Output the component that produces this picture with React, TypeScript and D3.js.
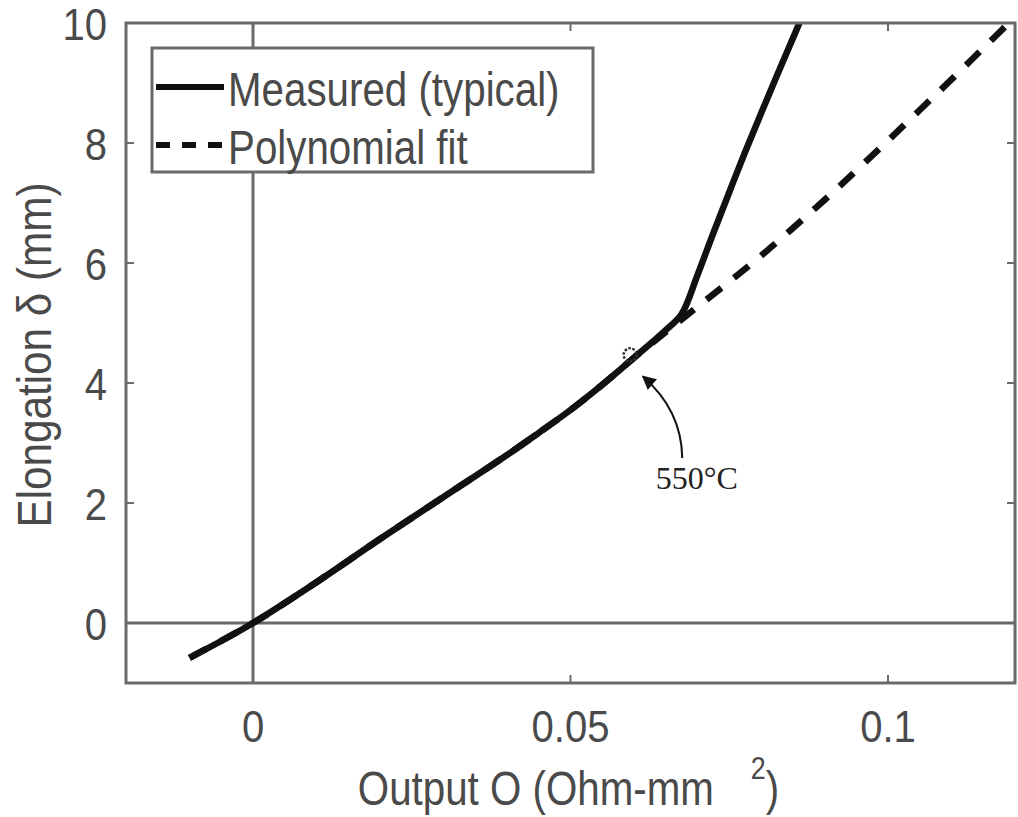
import { useEffect, useRef } from 'react'
import * as d3 from 'd3'

// Measured (typical) curve: output O vs elongation
const measuredO = [-0.01, -0.005, 0, 0.01, 0.02, 0.03, 0.04, 0.045, 0.05, 0.055, 0.06, 0.065, 0.0675, 0.07, 0.0725, 0.075, 0.0775, 0.08, 0.0825, 0.085, 0.0875]
const measuredDelta = [-0.58, -0.3, 0, 0.68, 1.4, 2.1, 2.8, 3.17, 3.55, 3.97, 4.42, 4.88, 5.15, 5.8, 6.5, 7.18, 7.85, 8.49, 9.12, 9.74, 10.36]

// Polynomial fit
const fitO = [-0.01, 0, 0.01, 0.02, 0.03, 0.04, 0.045, 0.05, 0.055, 0.06, 0.065, 0.07, 0.075, 0.08, 0.085, 0.09, 0.095, 0.1, 0.105, 0.11, 0.115, 0.12]
const fitDelta = [-0.58, 0, 0.68, 1.4, 2.1, 2.8, 3.17, 3.55, 3.97, 4.42, 4.85, 5.27, 5.69, 6.12, 6.58, 7.05, 7.54, 8.04, 8.55, 9.06, 9.58, 10.1]

const xTicks = [0, 0.05, 0.1]
const xTickLabels = ['0', '0.05', '0.1']
const yTicks = [0, 2, 4, 6, 8, 10]
const yTickLabels = ['0', '2', '4', '6', '8', '10']

const seriesNames = ['Measured (typical)', 'Polynomial fit']

// 550°C annotation (data units)
const markO = 0.0594
const markDelta = 4.47
const annoText = '550°C'
const arrowTail = [0.0676, 2.75]
const arrowCtrl = [0.0675, 3.55]
const arrowTip = [0.0614, 4.11]
const annoTextAt = [0.0699, 2.24]

export default function App() {
  const svgRef = useRef<SVGSVGElement>(null)

  useEffect(() => {
    if (!svgRef.current) return
    const width = 1018
    const height = 817
    const margin = { top: 23, right: 3, bottom: 134, left: 126 }
    const innerW = width - margin.left - margin.right
    const innerH = height - margin.top - margin.bottom

    const svg = d3.select(svgRef.current)
    svg.selectAll('*').remove()
    svg.attr('width', width).attr('height', height)

    const axisColor = '#6a6a6a'
    const textColor = '#4a4a4a'
    const font = '"Liberation Sans", Arial, sans-serif'
    const squeeze = 0.84

    const x = d3.scaleLinear().domain([-0.02, 0.12]).range([0, innerW])
    const y = d3.scaleLinear().domain([-1, 10]).range([innerH, 0])

    const defs = svg.append('defs')
    defs.append('clipPath').attr('id', 'plot-clip')
      .append('rect').attr('width', innerW).attr('height', innerH)
    defs.append('marker')
      .attr('id', 'arrow-head')
      .attr('viewBox', '0 0 10 10')
      .attr('refX', 9).attr('refY', 5)
      .attr('markerWidth', 7).attr('markerHeight', 7)
      .attr('markerUnits', 'strokeWidth')
      .attr('orient', 'auto')
      .append('path').attr('d', 'M0,0 L10,5 L0,10 z').attr('fill', '#111')

    const g = svg.append('g').attr('transform', `translate(${margin.left},${margin.top})`)

    // Zero lines
    g.append('line')
      .attr('x1', x(0)).attr('x2', x(0)).attr('y1', 0).attr('y2', innerH)
      .attr('stroke', axisColor).attr('stroke-width', 3)
    g.append('line')
      .attr('x1', 0).attr('x2', innerW).attr('y1', y(0)).attr('y2', y(0))
      .attr('stroke', axisColor).attr('stroke-width', 3)

    // Inward ticks on all four sides
    const tickLen = 8
    xTicks.forEach(t => {
      g.append('line').attr('x1', x(t)).attr('x2', x(t)).attr('y1', innerH).attr('y2', innerH - tickLen)
        .attr('stroke', axisColor).attr('stroke-width', 2)
      g.append('line').attr('x1', x(t)).attr('x2', x(t)).attr('y1', 0).attr('y2', tickLen)
        .attr('stroke', axisColor).attr('stroke-width', 2)
    })
    yTicks.forEach(t => {
      g.append('line').attr('x1', 0).attr('x2', tickLen).attr('y1', y(t)).attr('y2', y(t))
        .attr('stroke', axisColor).attr('stroke-width', 2)
      g.append('line').attr('x1', innerW).attr('x2', innerW - tickLen).attr('y1', y(t)).attr('y2', y(t))
        .attr('stroke', axisColor).attr('stroke-width', 2)
    })

    // Lines
    const plot = g.append('g').attr('clip-path', 'url(#plot-clip)')
    const line = d3.line<[number, number]>()
      .x(d => x(d[0])).y(d => y(d[1]))
      .curve(d3.curveCatmullRom.alpha(0.5))

    const fitPts = fitO.map((o, i) => [o, fitDelta[i]] as [number, number])
    const measPts = measuredO.map((o, i) => [o, measuredDelta[i]] as [number, number])

    plot.append('path').attr('d', line(fitPts))
      .attr('fill', 'none').attr('stroke', '#111').attr('stroke-width', 6.5)
      .attr('stroke-dasharray', '19 16')
    plot.append('path').attr('d', line(measPts))
      .attr('fill', 'none').attr('stroke', '#111').attr('stroke-width', 6.5)
      .attr('stroke-linejoin', 'round')

    // Annotation
    g.append('circle').attr('cx', x(markO)).attr('cy', y(markDelta)).attr('r', 6.5)
      .attr('fill', 'none').attr('stroke', '#333').attr('stroke-width', 2.5).attr('stroke-dasharray', '2.5 1.5')
    g.append('path')
      .attr('d', `M${x(arrowTail[0])},${y(arrowTail[1])} Q${x(arrowCtrl[0])},${y(arrowCtrl[1])} ${x(arrowTip[0])},${y(arrowTip[1])}`)
      .attr('fill', 'none').attr('stroke', '#111').attr('stroke-width', 2)
      .attr('marker-end', 'url(#arrow-head)')
    g.append('text')
      .attr('x', x(annoTextAt[0])).attr('y', y(annoTextAt[1]))
      .attr('text-anchor', 'middle')
      .attr('font-family', '"Liberation Serif", "Times New Roman", serif')
      .attr('font-size', 32).attr('fill', '#222')
      .text(annoText)

    // Box
    g.append('rect').attr('width', innerW).attr('height', innerH)
      .attr('fill', 'none').attr('stroke', axisColor).attr('stroke-width', 3)

    // Tick labels
    xTicks.forEach((t, i) => {
      g.append('text')
        .attr('transform', `translate(${x(t)},${innerH + 59}) scale(0.91,1)`)
        .attr('text-anchor', 'middle')
        .attr('font-family', font).attr('font-size', 44).attr('fill', textColor)
        .text(xTickLabels[i])
    })
    yTicks.forEach((t, i) => {
      g.append('text')
        .attr('transform', `translate(-19,${y(t) + 17}) scale(0.91,1)`)
        .attr('text-anchor', 'end')
        .attr('font-family', font).attr('font-size', 44).attr('fill', textColor)
        .text(yTickLabels[i])
    })

    // Axis labels
    const xl = svg.append('text')
      .attr('transform', `translate(${margin.left + innerW / 2 - 2},805) scale(${squeeze},1)`)
      .attr('text-anchor', 'middle')
      .attr('font-family', font).attr('font-size', 48).attr('fill', textColor)
    xl.append('tspan').text('Output O (Ohm-mm')
    xl.append('tspan').attr('dx', 44).attr('dy', -26).attr('font-size', 32).text('2')
    xl.append('tspan').attr('dy', 26).text(')')

    svg.append('text')
      .attr('transform', `translate(51,${margin.top + innerH / 2 + 2}) rotate(-90) scale(0.88,1)`)
      .attr('text-anchor', 'middle')
      .attr('font-family', font).attr('font-size', 48).attr('fill', textColor)
      .text('Elongation δ (mm)')

    // Legend
    const legend = svg.append('g')
    legend.append('rect').attr('x', 152).attr('y', 48).attr('width', 441).attr('height', 124)
      .attr('fill', '#fff').attr('stroke', axisColor).attr('stroke-width', 3)
    seriesNames.forEach((name, i) => {
      const ly = 87 + i * 58
      legend.append('line').attr('x1', 156).attr('x2', 224).attr('y1', ly).attr('y2', ly)
        .attr('stroke', '#111').attr('stroke-width', 6)
        .attr('stroke-dasharray', i === 1 ? '14 12' : null)
      legend.append('text')
        .attr('transform', `translate(228,${ly + 19}) scale(${squeeze},1)`)
        .attr('font-family', font).attr('font-size', 48).attr('fill', textColor)
        .text(name)
    })
  }, [])

  return (
    <div style={{ position: 'absolute', left: 0, top: 0 }}>
      <svg ref={svgRef} style={{ display: 'block', background: '#fff' }} />
    </div>
  )
}
